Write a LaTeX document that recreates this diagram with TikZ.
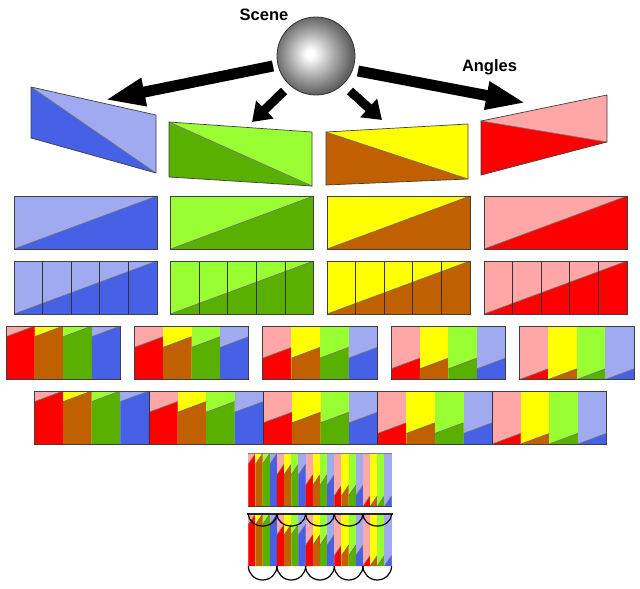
\documentclass[tikz,border=0pt]{standalone}
\usepackage{fontspec}
\setmainfont{Liberation Sans}
\usetikzlibrary{arrows.meta}
\definecolor{lblue}{RGB}{160,170,240}
\definecolor{dblue}{RGB}{70,96,230}
\definecolor{lgreen}{RGB}{153,255,51}
\definecolor{dgreen}{RGB}{90,176,0}
\definecolor{lyel}{RGB}{255,255,0}
\definecolor{dbrown}{RGB}{192,96,0}
\definecolor{lpink}{RGB}{255,166,166}
\definecolor{dred}{RGB}{255,0,0}
\pgfdeclareradialshading{sphereshade}{\pgfpoint{-4bp}{1.5bp}}{color(0bp)=(white); color(2.5bp)=(white); color(15bp)=(black!35); color(25bp)=(black!62); color(50bp)=(black!62)}
\tikzset{
  diagline/.style={draw=black!55,line width=0.6pt},
  tileframe/.style={draw=black!75,line width=0.8pt},
  coldivider/.style={draw=black!80,line width=0.8pt},
  paraframe/.style={draw=black!75,line width=0.7pt},
  bigarrow/.style={line width=11pt,-{Triangle[length=40pt,width=26pt]}},
  smallarrow/.style={line width=9pt,-{Triangle[length=18pt,width=24pt]}},
  labeltext/.style={font=\bfseries\fontsize{16.5}{20}\selectfont,anchor=base},
  halfarc/.style={draw=black,line width=1.2pt}
}
\newcommand\mytile[8]{%
  \fill[#7] (#1,#2) rectangle ({#1+#3},{#2+#4});
  \fill[#8] (#1,{#2+#4}) -- (#1,{#2+#4-(#5)*(#4)}) -- ({#1+#3},{#2+#4-(#6)*(#4)}) -- ({#1+#3},{#2+#4}) -- cycle;
  \draw[diagline] (#1,{#2+#4-(#5)*(#4)}) -- ({#1+#3},{#2+#4-(#6)*(#4)});
}
\begin{document}
\begin{tikzpicture}[x=1pt,y=-1pt]
\fill[white] (0,0) rectangle (640,589);
\useasboundingbox (0,0) rectangle (640,589);

% labels
\node[labeltext] (scenelabel) at (264,20.5) {Scene};
\node[labeltext] (angleslabel) at (489.5,71.5) {Angles};

% arrows
\coordinate (bigLtail) at (273,66);
\coordinate (bigLtip) at (105,100);
\coordinate (bigRtail) at (358,71);
\coordinate (bigRtip) at (526,103);
\coordinate (smLtail) at (284,91);
\coordinate (smLtip) at (252,122);
\coordinate (smRtail) at (350,91);
\coordinate (smRtip) at (382,120);
\draw[bigarrow] (bigLtail) -- (bigLtip);
\draw[bigarrow] (bigRtail) -- (bigRtip);
\draw[smallarrow] (smLtail) -- (smLtip);
\draw[smallarrow] (smRtail) -- (smRtip);

% sphere
\node[circle,minimum size=78pt,inner sep=0pt,shading=sphereshade,draw=black!80,line width=0.8pt] (scene) at (316,56) {};

% row 1: parallelograms
\fill[lblue] (31,87) -- (156,115) -- (156,173) -- cycle;
\fill[dblue] (31,87) -- (31,138) -- (156,173) -- cycle;
\draw[diagline] (31,87) -- (156,173);
\draw[paraframe] (31,87) -- (156,115) -- (156,173) -- (31,138) -- cycle;

\fill[lgreen] (169,122) -- (312,132) -- (312,186) -- cycle;
\fill[dgreen] (169,122) -- (169,177) -- (312,186) -- cycle;
\draw[diagline] (169,122) -- (312,186);
\draw[paraframe] (169,122) -- (312,132) -- (312,186) -- (169,177) -- cycle;

\fill[lyel] (326,132) -- (468,124) -- (468,179) -- cycle;
\fill[dbrown] (326,132) -- (326,185) -- (468,179) -- cycle;
\draw[diagline] (326,132) -- (468,179);
\draw[paraframe] (326,132) -- (468,124) -- (468,179) -- (326,185) -- cycle;

\fill[lpink] (481,121) -- (607,95) -- (607,142) -- cycle;
\fill[dred] (481,121) -- (481,175) -- (607,142) -- cycle;
\draw[diagline] (481,121) -- (607,142);
\draw[paraframe] (481,121) -- (607,95) -- (607,142) -- (481,175) -- cycle;

% rows 2 and 3
\foreach \x/\L/\D in {14/lblue/dblue,170.5/lgreen/dgreen,327/lyel/dbrown,484/lpink/dred} {
  \mytile{\x}{196}{143}{53}{0}{1}{\L}{\D}
  \draw[tileframe] (\x,196) rectangle ++(143,53);
  \foreach \k in {0,...,4} {
    \pgfmathsetmacro\xx{\x+28.6*\k}
    \pgfmathsetmacro\aa{\k/5}
    \pgfmathsetmacro\bb{(\k+1)/5}
    \mytile{\xx}{261}{28.6}{53}{\aa}{\bb}{\L}{\D}
  }
  \foreach \k in {1,...,4} {\draw[coldivider] ({\x+28.6*\k},261) -- ++(0,53);}
  \draw[tileframe] (\x,261) rectangle ++(143,53);
}

% row 4
\foreach \j in {0,...,4} {
  \pgfmathsetmacro\xs{6+128.4*\j}
  \pgfmathsetmacro\aa{(4-\j)/5}
  \pgfmathsetmacro\bb{(5-\j)/5}
  \foreach \L/\D [count=\i from 0] in {lpink/dred,lyel/dbrown,lgreen/dgreen,lblue/dblue} {
    \pgfmathsetmacro\xx{\xs+28.6*\i}
    \mytile{\xx}{326}{28.6}{53.5}{\aa}{\bb}{\L}{\D}
  }
  \draw[tileframe] (\xs,326) rectangle ++(114.4,53.5);
}

% row 5
\foreach \j in {0,...,4} {
  \pgfmathsetmacro\xs{34.5+114.4*\j}
  \pgfmathsetmacro\aa{(4-\j)/5}
  \pgfmathsetmacro\bb{(5-\j)/5}
  \foreach \L/\D [count=\i from 0] in {lpink/dred,lyel/dbrown,lgreen/dgreen,lblue/dblue} {
    \pgfmathsetmacro\xx{\xs+28.6*\i}
    \mytile{\xx}{391}{28.6}{53}{\aa}{\bb}{\L}{\D}
  }
}
\foreach \j in {1,...,4} {\draw[coldivider] ({34.5+114.4*\j},391) -- ++(0,53);}
\draw[tileframe] (34.5,391) rectangle ++(572,53);

% bottom stacks
\foreach \yt/\hh in {453.5/53,514/52} {
  \foreach \j in {0,...,4} {
    \pgfmathsetmacro\xs{248.3+28.66*\j}
    \pgfmathsetmacro\aa{(4-\j)/5}
    \pgfmathsetmacro\bb{(5-\j)/5}
    \foreach \L/\D [count=\i from 0] in {lpink/dred,lyel/dbrown,lgreen/dgreen,lblue/dblue} {
      \pgfmathsetmacro\xx{\xs+7.165*\i}
      \mytile{\xx}{\yt}{7.165}{\hh}{\aa}{\bb}{\L}{\D}
    }
  }
}
\draw[draw=black!50,line width=1.6pt] (248,453.5) -- (391.6,453.5);
\draw[draw=black!75,line width=1pt] (248,506.5) -- (391.6,506.5);
\draw[draw=black!85,line width=1.1pt] (247,514) -- (392.6,514);
\foreach \j in {0,...,4} {
  \draw[halfarc] ({248.3+28.66*\j},514) arc[start angle=180,end angle=360,x radius=14.33pt,y radius=12pt];
  \draw[halfarc] ({248.3+28.66*\j},566) arc[start angle=180,end angle=360,x radius=14.33pt,y radius=14pt];
}
\end{tikzpicture}
\end{document}
